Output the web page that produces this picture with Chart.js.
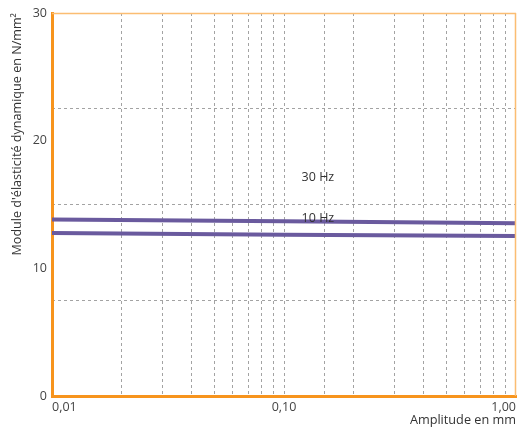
<!DOCTYPE html>
<html>
<head>
<meta charset="utf-8">
<script src="https://cdn.jsdelivr.net/npm/chart.js@4/dist/chart.umd.min.js"></script>
<style>
  html, body { margin: 0; padding: 0; background: #ffffff; }
  #wrap { width: 520px; height: 430px; }
</style>
</head>
<body>
<div id="wrap"><canvas id="c" width="520" height="430"></canvas></div>
<script>
// ---- data ----
const amplitudes = [0.01, 0.1, 1.0];                 // mm (log x axis)
const seriesNames = ['30 Hz', '10 Hz'];
const values30Hz = [13.83, 13.69, 13.53];            // N/mm²
const values10Hz = [12.77, 12.64, 12.53];            // N/mm²
const xTickValues = [0.01, 0.1, 1.0];
const xTickLabels = ['0,01', '0,10', '1,00'];
const yTickValues = [0, 10, 20, 30];
const yGridValues = [0, 7.5, 15, 22.5, 30];
const annotationTexts = ['30 Hz', '10 Hz'];
const annotationX = [0.14, 0.14];
const annotationY = [17.15, 13.94];
const xTitle = 'Amplitude en mm';
const yTitle = "Module d'élasticité dynamique en N/mm²";

// ---- styles ----
const FONT = "'Open Sans', 'DejaVu Sans', sans-serif";
const TEXT_COLOR = '#444444';
const ORANGE = '#f7941d';
const ORANGE_LIGHT = '#fbbd72';
const LINE_COLOR = '#6a5a9e';
const GRID_COLOR = '#a3a3a3';

const toXY = (vals) => amplitudes.map((a, i) => ({ x: a, y: vals[i] }));

const frameAndLabels = {
  id: 'frameAndLabels',
  afterDatasetsDraw(chart) {
    const { ctx, chartArea: a, scales } = chart;
    ctx.save();
    ctx.strokeStyle = ORANGE_LIGHT;
    ctx.lineWidth = 1.5;
    ctx.beginPath();
    ctx.moveTo(a.left, a.top + 0.5);
    ctx.lineTo(a.right, a.top + 0.5);
    ctx.moveTo(a.right - 0.5, a.top);
    ctx.lineTo(a.right - 0.5, a.bottom);
    ctx.stroke();
    ctx.fillStyle = '#333333';
    ctx.font = "12.5px " + FONT;
    ctx.textAlign = 'center';
    ctx.textBaseline = 'middle';
    annotationTexts.forEach((t, i) => {
      ctx.fillText(t, scales.x.getPixelForValue(annotationX[i]), scales.y.getPixelForValue(annotationY[i]));
    });
    ctx.restore();
  }
};

const near = (v, arr) => arr.findIndex(t => Math.abs(Math.log10(v) - Math.log10(t)) < 1e-6);

new Chart(document.getElementById('c'), {
  type: 'line',
  data: {
    datasets: [
      { label: seriesNames[0], data: toXY(values30Hz), borderColor: LINE_COLOR, borderWidth: 4, pointRadius: 0, tension: 0, fill: false },
      { label: seriesNames[1], data: toXY(values10Hz), borderColor: LINE_COLOR, borderWidth: 4, pointRadius: 0, tension: 0, fill: false }
    ]
  },
  options: {
    responsive: false,
    animation: false,
    layout: { padding: { top: 13, right: 2, left: 0, bottom: 0 } },
    plugins: { legend: { display: false }, tooltip: { enabled: false } },
    scales: {
      x: {
        type: 'logarithmic',
        position: 'bottom',
        min: 0.01,
        max: 1.0,
        afterFit(s) { s.height = 34; },
        grid: {
          drawTicks: false,
          lineWidth: 1,
          color: (c) => {
            const v = c.tick ? c.tick.value : null;
            if (v == null) return GRID_COLOR;
            if (Math.abs(v - 0.01) < 1e-9 || Math.abs(v - 1.0) < 1e-9) return 'rgba(0,0,0,0)';
            return GRID_COLOR;
          }
        },
        border: { display: true, color: ORANGE, width: 3, dash: [3, 3] },
        ticks: {
          autoSkip: false,
          maxRotation: 0,
          align: 'inner',
          padding: 4,
          color: TEXT_COLOR,
          font: { family: FONT, size: 12.5 },
          callback: (v) => { const i = near(v, xTickValues); return i >= 0 ? xTickLabels[i] : ''; }
        },
        title: {
          display: true,
          text: xTitle,
          align: 'end',
          color: '#333333',
          font: { family: FONT, size: 12.7 },
          padding: { top: 0, bottom: 2 }
        }
      },
      y: {
        type: 'linear',
        position: 'left',
        min: 0,
        max: 30,
        afterFit(s) { s.width = 52; },
        afterBuildTicks(s) { s.ticks = yTickValues.map(v => ({ value: v })); },
        grid: { display: false, drawTicks: false },
        border: { display: true, color: ORANGE, width: 3 },
        ticks: {
          padding: 5,
          color: TEXT_COLOR,
          font: { family: FONT, size: 12.5 }
        },
        title: {
          display: true,
          text: yTitle,
          align: 'end',
          color: '#333333',
          font: { family: FONT, size: 12.6 },
          padding: { top: 10, bottom: 0 }
        }
      },
      yGrid: {
        type: 'linear',
        position: 'right',
        min: 0,
        max: 30,
        afterFit(s) { s.width = 0; },
        afterBuildTicks(s) { s.ticks = yGridValues.map(v => ({ value: v })); },
        ticks: { display: false },
        grid: {
          drawTicks: false,
          lineWidth: 1,
          color: (c) => {
            const v = c.tick ? c.tick.value : null;
            if (v === 0 || v === 30) return 'rgba(0,0,0,0)';
            return GRID_COLOR;
          }
        },
        border: { display: false, dash: [3, 3] }
      }
    }
  },
  plugins: [frameAndLabels]
});
</script>
</body>
</html>
